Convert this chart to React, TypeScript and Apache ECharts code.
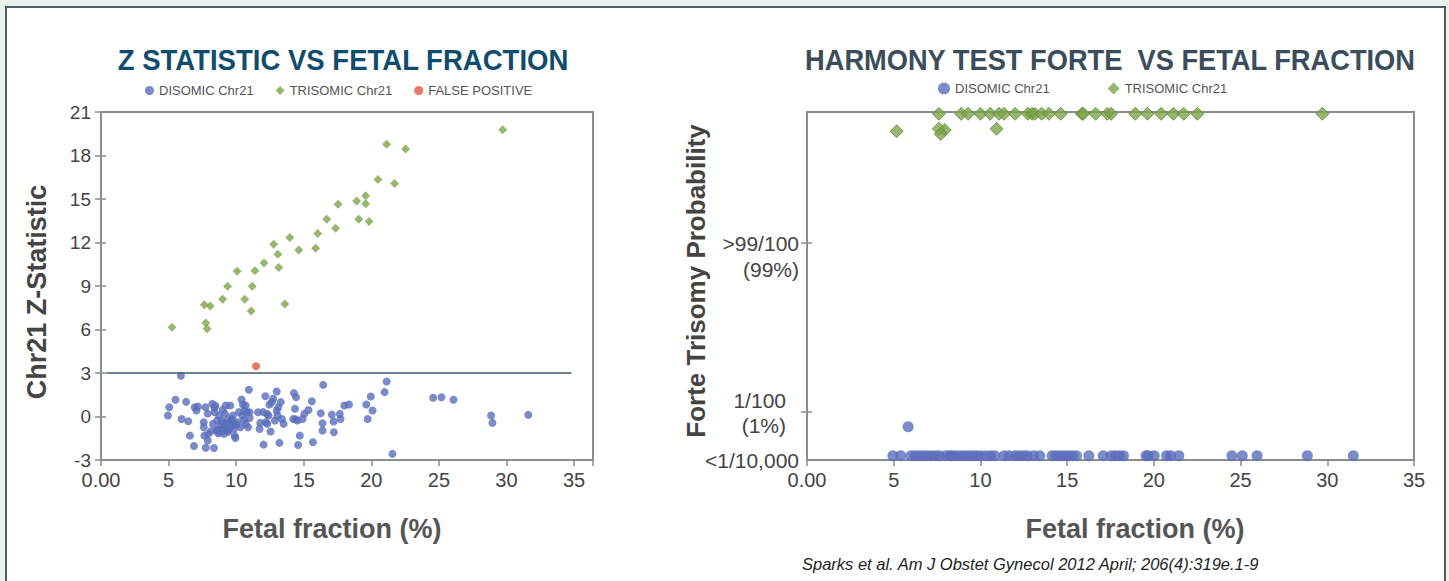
import React, { useEffect, useRef } from 'react';
import * as echarts from 'echarts';

const FONT = '"Liberation Sans", Arial, Helvetica, sans-serif';

// ---------- Left chart: Z statistic vs fetal fraction ----------
const disomicZ: number[][] = [
  [5.91, 2.81], [4.95, 0.07], [5.05, 0.64], [5.51, 1.15], [5.96, -0.17], [6.3, 1.01], [6.45, -0.33],
  [6.58, -1.32], [6.88, -2.03], [6.93, 0.64], [7.06, 0.41], [7.16, 0.69], [7.6, -0.4], [7.6, -0.74],
  [7.65, -1.32], [7.72, 0.64], [7.75, -2.15], [7.9, -1.66], [7.95, -1.2], [8.23, 0.87], [8.28, -0.51],
  [8.36, -2.17], [8.41, 0.29], [8.46, 0.76], [8.54, -0.97], [8.59, -0.28], [8.67, -1.15], [8.74, 0.07],
  [8.85, -0.63], [8.92, -0.28], [9.0, -0.86], [9.1, -1.2], [9.18, 0.18], [9.23, 0.76], [9.3, -0.51],
  [9.36, -0.97], [9.43, -0.17], [9.51, -0.86], [9.56, 0.76], [9.61, -0.33], [9.69, -0.63], [9.76, 0.07],
  [9.89, -1.32], [9.94, -1.48], [9.99, -0.56], [10.32, -0.74], [10.4, 1.17], [10.45, 0.07], [10.5, 0.83],
  [10.58, -0.24], [10.7, 0.76], [10.78, 0.29], [10.88, -0.74], [10.94, 1.84], [10.99, 0.29], [11.62, 0.29],
  [11.73, -0.86], [11.78, -0.44], [12.03, -1.94], [12.16, 1.4], [12.19, -0.4], [12.29, 0.18], [12.39, 0.07],
  [12.46, 0.83], [12.54, -1.04], [12.64, 0.99], [12.74, 1.22], [12.87, -0.28], [13.0, 1.72], [13.05, 0.07],
  [13.12, 0.64], [13.2, -1.82], [13.3, 0.99], [13.38, -0.17], [13.51, -0.51], [14.27, 1.61], [14.35, 0.53],
  [14.43, 1.33], [14.22, -0.17], [14.53, -0.28], [14.58, -1.96], [14.71, -1.32], [14.91, -0.17], [15.04, 0.18],
  [15.35, 0.45], [15.6, 1.05], [15.68, -1.78], [16.26, 0.22], [16.39, -0.46], [16.39, -0.97], [16.44, 2.18],
  [17.08, 0.13], [17.21, -0.35], [17.23, -1.09], [17.67, 0.18], [17.72, -0.17], [18.0, 0.76], [18.35, 0.83],
  [19.63, 0.83], [19.73, -0.17], [19.96, 1.38], [20.09, 0.41], [20.98, 1.68], [21.13, 2.41], [21.56, -2.58],
  [24.57, 1.29], [25.19, 1.33], [26.08, 1.15], [28.86, 0.07], [28.96, -0.44], [31.61, 0.11],
  [8.6, -0.9], [8.8, -1.1], [9.05, -0.45], [9.2, -0.7], [9.4, -1.05], [9.7, -0.2], [9.85, -0.85],
  [10.1, -0.4], [10.2, 0.3], [10.6, 0.4], [8.15, -1.0], [7.9, 0.2], [11.0, -0.1], [12.0, 0.3],
  [12.3, -0.5], [13.0, 0.4], [14.4, -0.2], [9.0, 0.45], [8.4, 0.6], [10.7, -0.5],
];

const trisomicZ: number[][] = [
  [5.25, 6.15], [7.65, 7.71], [8.08, 7.62], [7.75, 6.44], [7.85, 6.05], [9.0, 8.08], [9.36, 8.98],
  [10.07, 10.01], [10.63, 8.08], [11.11, 7.27], [11.19, 8.98], [11.39, 10.06], [12.06, 10.59], [12.77, 11.88],
  [13.08, 11.19], [13.15, 10.27], [13.61, 7.76], [13.97, 12.34], [14.63, 11.49], [15.88, 11.6], [16.03, 12.62],
  [16.7, 13.61], [17.36, 12.99], [17.54, 14.64], [18.91, 14.87], [19.07, 13.61], [19.58, 15.22], [19.58, 14.67],
  [19.83, 13.45], [20.49, 16.35], [21.13, 18.77], [21.72, 16.07], [22.53, 18.44], [29.72, 19.78],
];

const falsePositiveZ: number[][] = [[11.47, 3.47]];
const zThreshold = 3;
const zThresholdFrom = 0.4;
const zThresholdTo = 34.8;

// ---------- Right chart: Harmony test forte vs fetal fraction ----------
// y level: 0 = <1/10,000 ... 29 = top of plot
const disomicForte: number[][] = [
  [5.83, 2.78],
  [4.95, 0.36], [5.4, 0.36], [5.99, 0.36], [6.23, 0.36], [6.46, 0.36], [6.7, 0.36], [6.93, 0.36],
  [7.17, 0.36], [7.41, 0.36], [7.64, 0.36], [8.0, 0.36], [8.23, 0.36], [8.35, 0.36], [8.58, 0.36],
  [8.82, 0.36], [9.06, 0.36], [9.29, 0.36], [9.53, 0.36], [9.76, 0.36], [10.0, 0.36], [10.31, 0.36],
  [10.59, 0.36], [10.83, 0.36], [11.37, 0.36], [11.65, 0.36], [12.0, 0.36], [12.24, 0.36], [12.48, 0.36],
  [12.71, 0.36], [13.07, 0.36], [13.42, 0.36], [14.13, 0.36], [14.36, 0.36], [14.6, 0.36], [14.83, 0.36],
  [15.07, 0.36], [15.31, 0.36], [15.54, 0.36], [16.25, 0.36], [17.08, 0.36], [17.55, 0.36], [17.78, 0.36],
  [18.02, 0.36], [18.25, 0.36], [19.55, 0.36], [19.67, 0.36], [20.02, 0.36], [20.73, 0.36], [20.97, 0.36],
  [21.44, 0.36], [24.5, 0.36], [25.1, 0.36], [25.95, 0.36], [28.85, 0.36], [31.5, 0.36],
];

const trisomicForte: number[][] = [
  [7.6, 28.85], [8.9, 28.85], [9.29, 28.85], [10.0, 28.85], [10.56, 28.85], [11.07, 28.85], [11.36, 28.85],
  [12.0, 28.85], [12.74, 28.85], [12.97, 28.85], [13.14, 28.85], [13.53, 28.85], [13.95, 28.85], [14.63, 28.85],
  [15.85, 28.85], [15.93, 28.85], [16.64, 28.85], [17.32, 28.85], [17.54, 28.85], [18.93, 28.85], [19.63, 28.85],
  [20.42, 28.85], [21.13, 28.85], [21.72, 28.85], [22.51, 28.85], [29.72, 28.85],
  [5.17, 27.4], [7.6, 27.6], [7.94, 27.5], [7.71, 27.17], [10.93, 27.6],
];

const probTickValues = [4, 18.08];
const probLabelValues = [0, 2.9, 5.0, 15.9, 18.08];
const probLabelTexts = ['<1/10,000', '(1%)', '1/100', '(99%)', '>99/100'];

const xTickLabel = (v: number) => (v === 0 ? '0.00' : Math.abs(v % 5) < 1e-9 ? String(v) : '');

const BLUE = '#5a6dbb';
const GREEN = '#7da44a';
const RED = '#e4543b';
const AXIS = '#8c8c8c';
const LABEL = '#444';

export default function App() {
  const ref = useRef<HTMLDivElement>(null);

  useEffect(() => {
    if (!ref.current) return;
    const chart = echarts.init(ref.current, undefined, { renderer: 'svg' });

    const axisCommon = {
      axisLine: { show: true, onZero: false, lineStyle: { color: AXIS, width: 2 } },
      axisTick: { show: true, length: 6, lineStyle: { color: AXIS, width: 1.5 } },
      splitLine: { show: false },
      axisLabel: { color: LABEL, fontSize: 20, fontFamily: FONT, margin: 10 },
    };

    // duplicate axes that only draw the inner half of the crossing y ticks
    const innerTickAxis = {
      axisLine: { show: false },
      axisLabel: { show: false },
      splitLine: { show: false },
      axisTick: { show: true, inside: true, length: 5, lineStyle: { color: AXIS, width: 1.5 } },
    };

    const option: any = {
      animation: false,
      backgroundColor: '#eaf2ec',
      graphic: [
        {
          type: 'rect', z: -10, silent: true,
          shape: { x: 6, y: 7, width: 1439, height: 600 },
          style: { fill: '#ffffff', stroke: '#4c5b68', lineWidth: 2 },
        },
        {
          type: 'text', x: 343, y: 60, scaleX: 0.95,
          style: { text: 'Z STATISTIC VS FETAL FRACTION', font: `bold 29px ${FONT}`, fill: '#0f4c6e', align: 'center', verticalAlign: 'middle' },
        },
        {
          type: 'text', x: 1110, y: 60, scaleX: 0.94,
          style: { text: 'HARMONY TEST FORTE  VS FETAL FRACTION', font: `bold 29px ${FONT}`, fill: '#3b4d5a', align: 'center', verticalAlign: 'middle' },
        },
        {
          type: 'text', x: 37, y: 292, rotation: Math.PI / 2,
          style: { text: 'Chr21 Z-Statistic', font: `bold 27px ${FONT}`, fill: LABEL, align: 'center', verticalAlign: 'middle' },
        },
        {
          type: 'text', x: 696, y: 281, rotation: Math.PI / 2,
          style: { text: 'Forte Trisomy Probability', font: `bold 26px ${FONT}`, fill: LABEL, align: 'center', verticalAlign: 'middle' },
        },
        {
          type: 'text', x: 332, y: 529,
          style: { text: 'Fetal fraction (%)', font: `bold 27px ${FONT}`, fill: '#555', align: 'center', verticalAlign: 'middle' },
        },
        {
          type: 'text', x: 1135, y: 529,
          style: { text: 'Fetal fraction (%)', font: `bold 27px ${FONT}`, fill: '#555', align: 'center', verticalAlign: 'middle' },
        },
        {
          type: 'text', x: 802, y: 564,
          style: { text: 'Sparks et al. Am J Obstet Gynecol 2012 April; 206(4):319e.1-9', font: `italic 16.5px ${FONT}`, fill: '#222', align: 'left', verticalAlign: 'middle' },
        },
      ],
      legend: [
        {
          left: 140, top: 79, itemWidth: 9, itemHeight: 9, itemGap: 22, selectedMode: false,
          textStyle: { fontSize: 13, color: '#555', fontFamily: FONT },
          data: [
            { name: 'DISOMIC Chr21', icon: 'circle' },
            { name: 'TRISOMIC Chr21', icon: 'diamond' },
            { name: 'FALSE POSITIVE', icon: 'circle' },
          ],
        },
        {
          left: 933, top: 77, itemWidth: 12, itemHeight: 12, itemGap: 58, selectedMode: false,
          textStyle: { fontSize: 13, color: '#555', fontFamily: FONT },
          data: [
            { name: 'DISOMIC Chr21', icon: 'circle' },
            { name: 'TRISOMIC Chr21', icon: 'diamond' },
          ],
        },
      ],
      grid: [
        { left: 101, top: 112, width: 492, height: 348, show: true, borderColor: AXIS, borderWidth: 2, backgroundColor: 'transparent' },
        { left: 807, top: 112, width: 607, height: 348, show: true, borderColor: AXIS, borderWidth: 2, backgroundColor: 'transparent' },
      ],
      xAxis: [
        {
          ...axisCommon, type: 'value', gridIndex: 0, min: 0, max: 36.4, interval: 5,
          axisLabel: { ...axisCommon.axisLabel, formatter: xTickLabel },
        },
        {
          ...axisCommon, type: 'value', gridIndex: 1, min: 0, max: 35, interval: 5,
          axisLabel: { ...axisCommon.axisLabel, formatter: xTickLabel },
        },
      ],
      yAxis: [
        {
          ...axisCommon, type: 'value', gridIndex: 0, min: -3, max: 21, interval: 3,
          axisLabel: { ...axisCommon.axisLabel, fontSize: 19 },
        },
        {
          ...axisCommon, type: 'value', gridIndex: 1, min: 0, max: 29,
          axisTick: { ...axisCommon.axisTick, customValues: probTickValues },
          axisLabel: {
            color: LABEL, fontSize: 21, fontFamily: FONT, margin: 8,
            customValues: probLabelValues,
            formatter: (v: number) => {
              const i = probLabelValues.findIndex((p) => Math.abs(p - v) < 1e-6);
              if (i < 0) return '';
              return i === 1 || i === 2 ? `{s|${probLabelTexts[i]}}` : `{n|${probLabelTexts[i]}}`;
            },
            rich: {
              n: { fontSize: 21, color: LABEL, fontFamily: FONT },
              s: { fontSize: 21, color: LABEL, fontFamily: FONT, padding: [0, 13, 0, 0] },
            },
          },
        },
        {
          ...innerTickAxis, type: 'value', gridIndex: 0, position: 'left', min: -3, max: 21, interval: 3,
        },
        {
          ...innerTickAxis, type: 'value', gridIndex: 1, position: 'left', min: 0, max: 29,
          axisTick: { ...innerTickAxis.axisTick, customValues: probTickValues },
          axisLabel: { show: false, customValues: probTickValues },
        },
      ],
      series: [
        {
          name: 'DISOMIC Chr21', type: 'scatter', xAxisIndex: 0, yAxisIndex: 0,
          symbol: 'circle', symbolSize: 8, itemStyle: { color: BLUE }, data: disomicZ,
        },
        {
          name: 'TRISOMIC Chr21', type: 'scatter', xAxisIndex: 0, yAxisIndex: 0,
          symbol: 'diamond', symbolSize: 9, itemStyle: { color: GREEN }, data: trisomicZ,
        },
        {
          name: 'FALSE POSITIVE', type: 'scatter', xAxisIndex: 0, yAxisIndex: 0,
          symbol: 'circle', symbolSize: 8, itemStyle: { color: RED }, data: falsePositiveZ,
        },
        {
          name: 'threshold', type: 'line', xAxisIndex: 0, yAxisIndex: 0, silent: true,
          symbol: 'none', lineStyle: { color: '#3f5868', width: 1.5 },
          data: [[zThresholdFrom, zThreshold], [zThresholdTo, zThreshold]],
        },
        {
          name: 'DISOMIC Chr21', type: 'scatter', xAxisIndex: 1, yAxisIndex: 1,
          symbol: 'circle', symbolSize: 11, itemStyle: { color: BLUE }, data: disomicForte,
        },
        {
          name: 'TRISOMIC Chr21', type: 'scatter', xAxisIndex: 1, yAxisIndex: 1,
          symbol: 'diamond', symbolSize: 13, itemStyle: { color: GREEN, borderColor: '#5f8a38', borderWidth: 1 },
          data: trisomicForte,
        },
      ],
    };

    chart.setOption(option);
    return () => chart.dispose();
  }, []);

  return (
    <div
      ref={ref}
      style={{ position: 'fixed', left: 0, top: 0, width: 1449, height: 581 }}
    />
  );
}
